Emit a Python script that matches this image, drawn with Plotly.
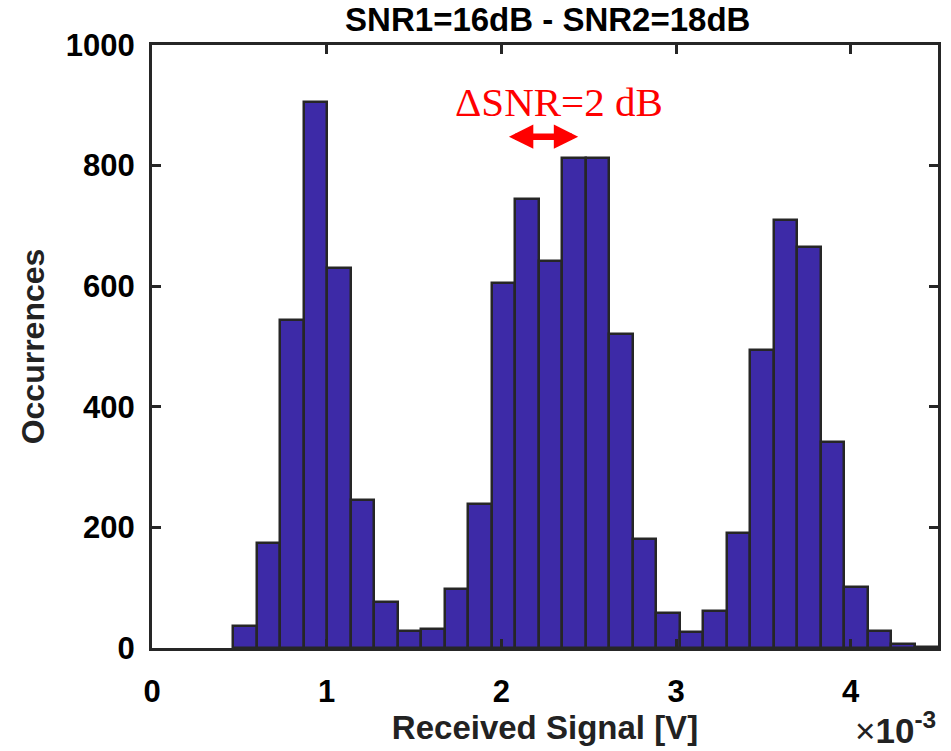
import numpy as np
import plotly.graph_objects as go

# Histogram data (x in units of 1e-3 V)
bin_start = 0.4647
bin_width = 0.13451
counts = [36, 174, 544, 905, 630, 246, 76, 28, 32, 98,
          239, 605, 745, 641, 813, 813, 520, 181, 58, 27,
          61, 190, 494, 709, 665, 342, 101, 29, 6, 2]
centers = [bin_start + bin_width * (i + 0.5) for i in range(len(counts))]

x_ticks = [0, 1, 2, 3, 4]
y_ticks = [0, 200, 400, 600, 800, 1000]

title_text = "SNR1=16dB - SNR2=18dB"
x_title = "Received Signal [V]"
y_title = "Occurrences"
note_text = "\u0394SNR=2 dB"
arrow_from = (2.035, 848)
arrow_to = (2.44, 848)

bar_color = "#3D2AA7"
edge_color = "#262626"
axis_color = "#262626"
font_fam = "Liberation Sans, Arial, sans-serif"

fig = go.Figure()
fig.add_trace(go.Bar(
    x=centers, y=counts, width=bin_width,
    marker=dict(color=bar_color, line=dict(color=edge_color, width=2.5)),
    showlegend=False,
))

axis_common = dict(
    showline=True, linecolor=axis_color, linewidth=3, mirror="ticks",
    ticks="inside", tickcolor=axis_color, tickwidth=3, ticklen=9,
    showgrid=False, zeroline=False,
    tickfont=dict(family=font_fam, size=31, color="#000000", weight="bold"),
)

fig.update_xaxes(range=[0, 4.5], tickvals=x_ticks, ticktext=[str(t) for t in x_ticks],
                 ticklabelstandoff=14,
                 title=dict(text=x_title, standoff=6,
                            font=dict(family=font_fam, size=33, color="#222222", weight="bold")),
                 **axis_common)
fig.update_yaxes(range=[0, 1000], tickvals=y_ticks, ticktext=[str(t) for t in y_ticks],
                 ticklabelstandoff=8,
                 title=dict(text=y_title, standoff=12,
                            font=dict(family=font_fam, size=32, color="#222222", weight="bold")),
                 **axis_common)

fig.update_layout(
    width=951, height=751, autosize=False,
    margin=dict(l=152, r=10, t=45, b=103),
    plot_bgcolor="white", paper_bgcolor="white",
    bargap=0,
    title=dict(text=title_text, x=0.576, xanchor="center", y=0.974, yanchor="middle",
               font=dict(family=font_fam, size=33, color="#000000", weight="bold")),
)

# Delta SNR label
fig.add_annotation(x=2.33, y=905, xref="x", yref="y", text=note_text, showarrow=False,
                   font=dict(family="Liberation Serif, Times New Roman, serif", size=41, color="#FF0000"))
# double-headed arrow
fig.add_annotation(x=arrow_to[0], y=arrow_to[1], ax=arrow_from[0], ay=arrow_from[1],
                   xref="x", yref="y", axref="x", ayref="y", text="",
                   showarrow=True, arrowhead=2, startarrowhead=2, arrowside="end+start",
                   arrowsize=0.75, startarrowsize=0.75, arrowwidth=6.5, arrowcolor="#FF0000",
                   standoff=0, startstandoff=0)

# exponent label
fig.add_annotation(x=1.0, y=-0.172, xref="paper", yref="paper", xanchor="right", yanchor="bottom",
                   text="\u00d7<b>10</b><sup><b>-3</b></sup>", showarrow=False,
                   font=dict(family=font_fam, size=35, color="#222222"))

fig.write_html("out.html")
